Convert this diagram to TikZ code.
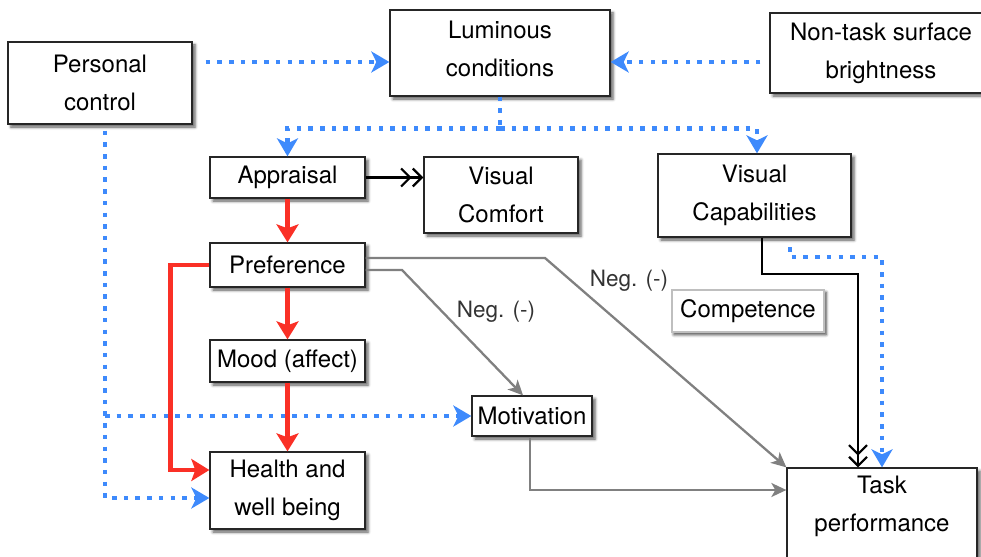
\documentclass[tikz,border=0pt]{standalone}
\usepackage{fontspec}
\setmainfont{TeX Gyre Heros}
\usetikzlibrary{arrows.meta,shadows.blur}
\definecolor{dotblue}{RGB}{62,138,252}
\definecolor{linkred}{RGB}{250,48,38}
\definecolor{linkgray}{RGB}{128,128,128}

\begin{document}
\begin{tikzpicture}[x=1pt,y=-1pt,
  box/.style={draw=black!85, line width=1.3pt, fill=white, inner sep=0pt,
    align=center, font=\fontsize{24}{38}\selectfont,
    blur shadow={shadow xshift=3pt, shadow yshift=-3pt,
      shadow blur radius=3pt, shadow opacity=65}},
  softbox/.style={box, draw=black!25,
    blur shadow={shadow xshift=2pt, shadow yshift=-2.5pt,
      shadow blur radius=3pt, shadow opacity=45}},
  plaintext/.style={inner sep=0pt, align=center, font=\fontsize{24}{38}\selectfont},
  neglabel/.style={inner sep=0pt, text=black!80, font=\fontsize{22.5}{26}\selectfont},
  bluedots/.style={draw=dotblue, line width=4.5pt, dash pattern=on 4.5pt off 7.2pt},
  blueflow/.style={bluedots, -{Stealth[length=18pt,width=21pt,inset=5pt]}},
  redflow/.style={draw=linkred, line width=4.5pt,
    -{Stealth[length=18pt,width=22pt,inset=4pt]}},
  grayflow/.style={draw=linkgray, line width=2.3pt,
    -{Stealth[length=15pt,width=14pt,inset=4pt]}},
  dblblack/.style={draw=black, line width=2.2pt,
    -{Straight Barb[length=9pt,width=18pt]Straight Barb[length=9pt,width=18pt]}}
]
\useasboundingbox (0,0) rectangle (981,556);

% boxes
\node[box, minimum width=184pt, minimum height=82pt] (pc)   at (100,83)    {Personal\\control};
\node[box, minimum width=220pt, minimum height=86pt] (lum)  at (500,53)    {};
\node[plaintext] (lumtext) at (500,49) {Luminous\\conditions};
\node[box, minimum width=222pt, minimum height=80pt] (nts)  at (881,53)    {Non-task surface\\brightness};
\node[box, minimum width=155pt, minimum height=41pt] (app)  at (287.5,177.5) {Appraisal};
\node[box, minimum width=154pt, minimum height=76pt] (vc)   at (501,195)   {Visual\\Comfort};
\node[box, minimum width=193pt, minimum height=83pt] (vcap) at (754.5,195.5) {Visual\\Capabilities};
\node[box, minimum width=155pt, minimum height=44pt] (pref) at (287.5,265) {Preference};
\node[softbox, minimum width=152pt, minimum height=42pt] (comp) at (748,311) {Competence};
\node[box, minimum width=155pt, minimum height=42pt] (mood) at (287.5,361) {Mood (affect)};
\node[box, minimum width=120pt, minimum height=40pt] (mot)  at (532,416)   {Motivation};
\node[box, minimum width=155pt, minimum height=77pt] (hlth) at (287.5,490.5) {Health and\\well being};
\node[box, minimum width=190pt, minimum height=94pt] (task) at (882,515)   {};
\node[plaintext] (tasktext) at (882,506) {Task\\performance};

% labels on the negative links
\node[neglabel] (negA) at (629,281) {Neg. (-)};
\node[neglabel] (negB) at (496,312) {Neg. (-)};

% helper points
\coordinate (split)  at ([yshift=-32pt]lum.south);
\coordinate (pcdrop) at ([xshift=5pt,yshift=-6pt]pc.south);
\coordinate (bendA)  at (545,258);
\coordinate (bendB)  at (402,270);
\coordinate (vcapdot) at (790,247);

% luminous conditions inputs
\draw[blueflow] ([shift={(13pt,21pt)}]pc.east) -- ([yshift=-9pt]lum.west);
\draw[blueflow] ([shift={(-9pt,-9pt)}]nts.west) -- ([yshift=-9pt]lum.east);

% luminous conditions outputs
\draw[bluedots] (lum.south) -- (split);
\draw[blueflow] (split) -| (app.north);
\draw[blueflow] (split) -| ([xshift=2.5pt]vcap.north);

% appraisal chain
\draw[dblblack] (app.east) -- (vc.west |- app.east);
\draw[redflow] (app.south) -- (pref.north);
\draw[redflow] (pref.south) -- (mood.north);
\draw[redflow] (mood.south) -- (hlth.north);
\draw[redflow] (pref.west) -- ++(-39,0) |- ([yshift=20.5pt]hlth.west);

% personal control
\draw[blueflow] (pcdrop) |- ([yshift=-7.5pt]hlth.west);
\draw[blueflow] (pcdrop |- mot.west) -- (mot.west);

% negative links
\draw[grayflow] ([yshift=7pt]pref.east) -- (bendA) -- (task.north west);
\draw[grayflow] ([yshift=-5pt]pref.east) -- (bendB) -- ([xshift=-9pt]mot.north);
\draw[grayflow] ([xshift=-2pt]mot.south) |- ([yshift=25pt]task.west);

% visual capabilities to task performance
\draw[dblblack] ([xshift=7.5pt]vcap.south) -- ++(0,36) -| ([xshift=-24pt]task.north);
\draw[blueflow] (vcapdot) |- (task.north |- 0,257) -- (task.north);
\end{tikzpicture}
\end{document}
